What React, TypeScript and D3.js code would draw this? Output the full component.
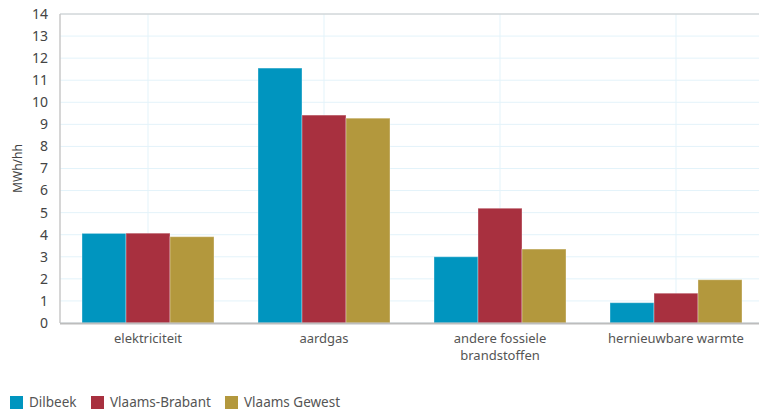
import React from "react";
import * as d3 from "d3";

const categories = ["elektriciteit", "aardgas", "andere fossiele brandstoffen", "hernieuwbare warmte"];
const categoryLines = [["elektriciteit"], ["aardgas"], ["andere fossiele", "brandstoffen"], ["hernieuwbare warmte"]];
const seriesNames = ["Dilbeek", "Vlaams-Brabant", "Vlaams Gewest"];
const dilbeek = [4.06, 11.55, 3.0, 0.92];
const vlaamsBrabant = [4.07, 9.42, 5.2, 1.35];
const vlaamsGewest = [3.91, 9.28, 3.35, 1.96];
const colors = ["#0095bf", "#a8303f", "#b3983d"];
const yTicks = d3.range(0, 15);

export default function App() {
  const W = 759, H = 413;
  const left = 60, right = 764, top = 14, bottom = 323;
  const x = d3.scaleBand<string>().domain(categories).range([left, right]).paddingInner(0).paddingOuter(0);
  const groupW = x.bandwidth() * 0.75;
  const x1b = d3.scaleBand<string>().domain(seriesNames).range([(x.bandwidth() - groupW) / 2, (x.bandwidth() + groupW) / 2]);
  const y = d3.scaleLinear().domain([0, 14]).range([bottom, top]);
  const series = [dilbeek, vlaamsBrabant, vlaamsGewest];
  const font = "'Noto Sans', sans-serif";
  const legendX = [10, 91, 225];
  return (
    <svg width={W} height={H} style={{ position: "absolute", left: 0, top: 0 }} fontFamily={font}>
      {yTicks.map((t) => (
        <line key={"g" + t} x1={left} x2={right} y1={y(t)} y2={y(t)} stroke="#e3f3fa" strokeWidth={1} />
      ))}
      {categories.map((c) => (
        <line key={"v" + c} x1={x(c)! + x.bandwidth() / 2} x2={x(c)! + x.bandwidth() / 2} y1={top} y2={bottom} stroke="#e3f3fa" strokeWidth={1} />
      ))}
      <line x1={left} x2={right} y1={top} y2={top} stroke="#c8c8c8" strokeWidth={1} />
      <line x1={left} x2={left} y1={top} y2={bottom} stroke="#c8c8c8" strokeWidth={1.5} />
      {categories.map((c, i) =>
        series.map((s, j) => (
          <rect
            key={c + j}
            x={x(c)! + x1b(seriesNames[j])!}
            y={y(s[i])}
            width={x1b.bandwidth()}
            height={y(0) - y(s[i])}
            fill={colors[j]}
            stroke="#ffffff"
            strokeOpacity={0.35}
            strokeWidth={1}
          />
        ))
      )}
      <line x1={left} x2={right} y1={bottom + 0.5} y2={bottom + 0.5} stroke="#bdbdbd" strokeWidth={2} />
      {yTicks.map((t) => (
        <text key={"t" + t} x={48} y={y(t)} dy="0.35em" textAnchor="end" fontSize={14} fill="#444">
          {t}
        </text>
      ))}
      <text transform={`translate(22,${(top + bottom) / 2}) rotate(-90)`} textAnchor="middle" fontSize={12} fill="#444">
        MWh/hh
      </text>
      {categories.map((c, i) => (
        <text key={"c" + c} x={x(c)! + x.bandwidth() / 2} y={343} textAnchor="middle" fontSize={13} fill="#555">
          {categoryLines[i].map((l, k) => (
            <tspan key={k} x={x(c)! + x.bandwidth() / 2} dy={k === 0 ? 0 : 17}>
              {l}
            </tspan>
          ))}
        </text>
      ))}
      {seriesNames.map((n, j) => (
        <g key={n}>
          <rect x={legendX[j]} y={396} width={13} height={13} fill={colors[j]} />
          <text x={legendX[j] + 19} y={402.5} dy="0.35em" fontSize={13.5} fill="#555">
            {n}
          </text>
        </g>
      ))}
    </svg>
  );
}
